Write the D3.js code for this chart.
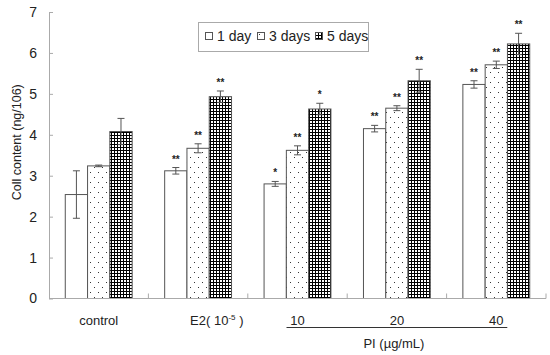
<!DOCTYPE html>
<html>
<head>
<meta charset="utf-8">
<script src="https://cdn.jsdelivr.net/npm/d3@7"></script>
<style>
  body { margin: 0; background: #fff; }
  svg { font-family: "Liberation Sans", Arial, sans-serif; }
</style>
</head>
<body>
<div class="canvas"></div>
<script>
// groups along the x axis, and the three time points
const categories = ['control', 'E2', '10', '20', '40'];
const series = ['1 day', '3 days', '5 days'];

// means, one array per time point
const day1 = [2.54, 3.12, 2.80, 4.15, 5.23];
const day3 = [3.24, 3.67, 3.62, 4.65, 5.71];
const day5 = [4.08, 4.93, 4.63, 5.32, 6.22];

// error bar half-widths
const err1 = [0.58, 0.08, 0.06, 0.08, 0.09];
const err3 = [0.02, 0.11, 0.11, 0.06, 0.09];
const err5 = [0.32, 0.14, 0.14, 0.28, 0.26];

// significance marks
const sig1 = ['', '**', '*', '**', '**'];
const sig3 = ['', '**', '**', '**', '**'];
const sig5 = ['', '**', '*', '**', '**'];

const yTicks = [0, 1, 2, 3, 4, 5, 6, 7];
const piLabels = ['10', '20', '40'];

const dims = { width: 550, height: 355 };
const margin = { left: 49, right: 4, top: 12, bottom: 56 };

const svg = d3.select('.canvas')
  .append('svg')
  .attr('width', dims.width)
  .attr('height', dims.height);

// patterns for the dotted and the checked bars
const defs = svg.append('defs');
const dots = defs.append('pattern')
  .attr('id', 'dots')
  .attr('patternUnits', 'userSpaceOnUse')
  .attr('width', 8).attr('height', 10);
dots.append('rect').attr('width', 8).attr('height', 10).attr('fill', '#fff');
dots.append('rect').attr('x', 2).attr('y', 2).attr('width', 1).attr('height', 1).attr('fill', '#333');
dots.append('rect').attr('x', 6).attr('y', 7).attr('width', 1).attr('height', 1).attr('fill', '#333');

const grid = defs.append('pattern')
  .attr('id', 'grid')
  .attr('patternUnits', 'userSpaceOnUse')
  .attr('width', 3).attr('height', 3);
grid.append('rect').attr('width', 3).attr('height', 3).attr('fill', '#000');
grid.append('rect').attr('x', 1).attr('y', 1).attr('width', 2).attr('height', 2).attr('fill', '#fff');

const fills = { '1 day': '#fff', '3 days': 'url(#dots)', '5 days': 'url(#grid)' };

const x = d3.scaleBand()
  .domain(categories)
  .range([margin.left, dims.width - margin.right]);

const xSub = d3.scaleBand()
  .domain(series)
  .range([0, x.bandwidth()])
  .paddingOuter(0.73);

const y = d3.scaleLinear()
  .domain([0, 7])
  .range([dims.height - margin.bottom - 0.5, margin.top]);

const rows = [];
categories.forEach((c, i) => {
  rows.push({ cat: c, s: '1 day', v: day1[i], e: err1[i], sig: sig1[i] });
  rows.push({ cat: c, s: '3 days', v: day3[i], e: err3[i], sig: sig3[i] });
  rows.push({ cat: c, s: '5 days', v: day5[i], e: err5[i], sig: sig5[i] });
});

// bars
svg.append('g').selectAll('rect')
  .data(rows)
  .enter()
  .append('rect')
    .attr('x', d => x(d.cat) + xSub(d.s))
    .attr('y', d => y(d.v))
    .attr('width', xSub.bandwidth())
    .attr('height', d => y(0) - y(d.v))
    .attr('fill', d => fills[d.s])
    .attr('stroke', '#555')
    .attr('stroke-width', 1);

// error bars
const eb = svg.append('g')
  .attr('stroke', '#555')
  .attr('stroke-width', 1);
const cx = d => x(d.cat) + xSub(d.s) + xSub.bandwidth() / 2;
eb.selectAll('line.v')
  .data(rows)
  .enter()
  .append('line')
    .attr('x1', cx).attr('x2', cx)
    .attr('y1', d => y(d.v - d.e)).attr('y2', d => y(d.v + d.e));
eb.selectAll('line.t')
  .data(rows)
  .enter()
  .append('line')
    .attr('x1', d => cx(d) - 3.5).attr('x2', d => cx(d) + 3.5)
    .attr('y1', d => y(d.v + d.e)).attr('y2', d => y(d.v + d.e));
eb.selectAll('line.b')
  .data(rows)
  .enter()
  .append('line')
    .attr('x1', d => cx(d) - 3.5).attr('x2', d => cx(d) + 3.5)
    .attr('y1', d => y(d.v - d.e)).attr('y2', d => y(d.v - d.e));

// stars
svg.append('g').selectAll('text')
  .data(rows.filter(d => d.sig))
  .enter()
  .append('text')
    .attr('x', cx)
    .attr('y', d => y(d.v + d.e) - 5)
    .attr('text-anchor', 'middle')
    .attr('font-size', 10)
    .attr('font-weight', 'bold')
    .attr('fill', '#222')
    .text(d => d.sig);

// axes
const yAxis = d3.axisLeft(y)
  .tickValues(yTicks)
  .tickFormat(d3.format('d'))
  .tickSizeInner(-4)
  .tickSizeOuter(0)
  .tickPadding(12);
const gy = svg.append('g')
  .attr('transform', `translate(${margin.left}, 0)`)
  .call(yAxis);
gy.select('.domain').attr('stroke', '#aaa');
gy.selectAll('.tick line').attr('stroke', '#aaa');
gy.selectAll('text').attr('font-size', 14).attr('fill', '#222')
  .attr('font-family', '"Liberation Sans", Arial, sans-serif');

const xAxis = svg.append('g');
xAxis.append('line')
  .attr('x1', margin.left).attr('x2', x.range()[1])
  .attr('y1', y(0)).attr('y2', y(0))
  .attr('stroke', '#aaa');
xAxis.selectAll('line.tk')
  .data(categories.slice(1).concat(['end']))
  .enter()
  .append('line')
    .attr('x1', (d, i) => x(categories[0]) + x.step() * (i + 1))
    .attr('x2', (d, i) => x(categories[0]) + x.step() * (i + 1))
    .attr('y1', y(0)).attr('y2', y(0) - 5)
    .attr('stroke', '#aaa');

const labelY = y(0) + 26;
svg.append('text')
  .attr('x', x('control') + x.bandwidth() / 2)
  .attr('y', labelY)
  .attr('text-anchor', 'middle')
  .attr('font-size', 13)
  .attr('fill', '#222')
  .text('control');

const e2 = svg.append('text')
  .attr('x', x('E2') + x.bandwidth() / 2 - 8)
  .attr('y', labelY)
  .attr('font-size', 13)
  .attr('fill', '#222');
e2.append('tspan').text('E2( 10');
e2.append('tspan').attr('dy', -5).attr('font-size', 8).text('-5');
e2.append('tspan').attr('dy', 5).text(' )');

svg.append('g').selectAll('text')
  .data(piLabels)
  .enter()
  .append('text')
    .attr('x', d => x(d) + x.bandwidth() / 2)
    .attr('y', labelY)
    .attr('text-anchor', 'middle')
    .attr('font-size', 13)
    .attr('fill', '#222')
    .text(d => d);

svg.append('line')
  .attr('x1', x('10') + x.bandwidth() / 2 - 11)
  .attr('x2', x('40') + x.bandwidth() / 2 + 11)
  .attr('y1', y(0) + 29).attr('y2', y(0) + 29)
  .attr('stroke', '#333');

svg.append('text')
  .attr('x', x('20') + x.bandwidth() / 2 - 3)
  .attr('y', y(0) + 49)
  .attr('text-anchor', 'middle')
  .attr('font-size', 13)
  .attr('fill', '#222')
  .text('PI (\u00b5g/mL)');

// y axis title
svg.append('text')
  .attr('transform', `translate(21, ${(y(0) + y(7)) / 2 - 13}) rotate(-90)`)
  .attr('text-anchor', 'middle')
  .attr('font-size', 12.5)
  .attr('fill', '#222')
  .text('Coll content (ng/106)');

// legend
const legendBox = { x: 198, y: 22, w: 170, h: 29 };
svg.append('rect')
  .attr('x', legendBox.x + 0.5).attr('y', legendBox.y + 0.5)
  .attr('width', legendBox.w).attr('height', legendBox.h)
  .attr('fill', '#fff')
  .attr('stroke', '#aaa');

const legendX = [205, 257, 315];
const legend = svg.selectAll('.legend')
  .data(series)
  .enter()
  .append('g')
  .attr('class', 'legend')
  .attr('transform', (d, i) => `translate(${legendX[i]}, 32)`);

legend.append('rect')
  .attr('x', 0.5).attr('y', 0.5)
  .attr('width', 7).attr('height', 7)
  .attr('fill', d => fills[d])
  .attr('stroke', '#555');

legend.append('text')
  .attr('x', 12)
  .attr('y', 9)
  .attr('font-size', 14)
  .attr('fill', '#222')
  .text(d => d);
</script>
</body>
</html>
